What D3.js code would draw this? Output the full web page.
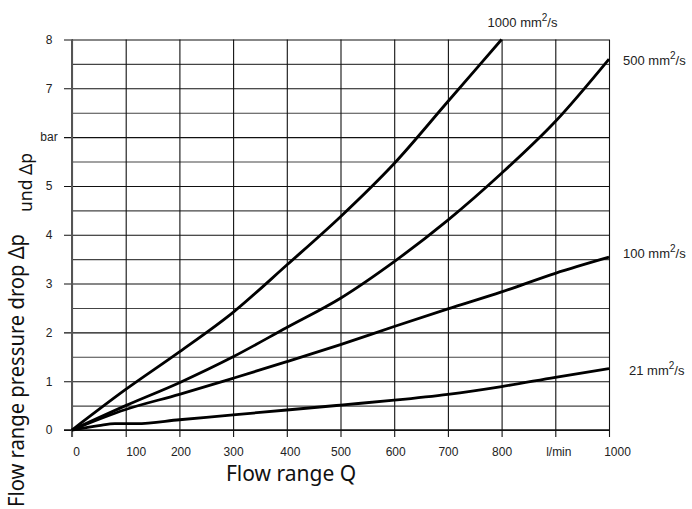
<!DOCTYPE html>
<html>
<head>
<meta charset="utf-8">
<script src="https://cdn.jsdelivr.net/npm/d3@7"></script>
<style>
  body { margin: 0; background: #fff; }
  svg { display: block; }
  .tick text { font-family: "Liberation Sans", Arial, sans-serif; font-size: 12px; fill: #222; }
  .title { font-family: "Noto Sans", "Open Sans", sans-serif; fill: #111; }
  .series-label { font-family: "Liberation Sans", Arial, sans-serif; font-size: 13px; fill: #222; }
</style>
</head>
<body>
<svg width="692" height="509"></svg>
<script>
// values (Q in l/min, dp in bar)
var xTicks = [0, 100, 200, 300, 400, 500, 600, 700, 800, 900, 1000]
var xTickLabels = ["0", "100", "200", "300", "400", "500", "600", "700", "800", "l/min", "1000"]
var yTicks = [0, 1, 2, 3, 4, 5, 6, 7, 8]
var yTickLabels = ["0", "1", "2", "3", "4", "5", "bar", "7", "8"]
var yHalfTicks = [0.5, 1.5, 2.5, 3.5, 4.5, 5.5, 6.5, 7.5]

var viscosities = [1000, 500, 100, 21]

var q1000 = [0, 100, 200, 300, 400, 500, 600, 700, 800]
var dp1000 = [0, 0.83, 1.6, 2.41, 3.38, 4.37, 5.46, 6.73, 8.0]

var q500 = [0, 100, 200, 300, 400, 500, 600, 700, 800, 900, 1000]
var dp500 = [0, 0.5, 0.97, 1.5, 2.1, 2.7, 3.45, 4.3, 5.26, 6.32, 7.6]

var q100 = [0, 100, 200, 300, 400, 500, 600, 700, 800, 900, 1000]
var dp100 = [0, 0.42, 0.73, 1.06, 1.4, 1.75, 2.12, 2.48, 2.83, 3.21, 3.54]

var q21 = [0, 50, 80, 120, 200, 300, 400, 500, 600, 700, 800, 900, 1000]
var dp21 = [0, 0.09, 0.13, 0.13, 0.21, 0.31, 0.41, 0.51, 0.61, 0.73, 0.89, 1.08, 1.26]

var series = [
  { visc: viscosities[0], q: q1000, dp: dp1000 },
  { visc: viscosities[1], q: q500, dp: dp500 },
  { visc: viscosities[2], q: q100, dp: dp100 },
  { visc: viscosities[3], q: q21, dp: dp21 }
]

var svg = d3.select('svg')

var x = d3.scaleLinear().domain([0, 1000]).range([72, 609])
var y = d3.scaleLinear().domain([0, 8]).range([430, 39.5])

var plotW = x(1000) - x(0)
var plotH = y(0) - y(8)

// half-unit horizontal grid lines
svg.append('g')
    .attr('transform', 'translate(' + x(0) + ',0)')
    .call(d3.axisLeft(y).tickValues(yHalfTicks).tickSize(-plotW).tickFormat(''))
    .call(function(g) {
      g.select('.domain').remove()
      g.selectAll('line').attr('stroke', '#444').attr('stroke-width', 1.1)
    })

// integer horizontal grid lines with ticks and labels
svg.append('g')
    .attr('transform', 'translate(' + (x(0) - 8) + ',0)')
    .call(d3.axisLeft(y).tickValues(yTicks).tickSize(-(plotW + 8)).tickPadding(9)
      .tickFormat(function(d, i) { return yTickLabels[i] }))
    .call(function(g) {
      g.select('.domain').remove()
      g.selectAll('line').attr('stroke', '#111').attr('stroke-width', 1.1)
      g.selectAll('text').attr('text-anchor', 'middle').attr('x', -15)
    })

// the printed labels sit a little right of some grid lines
var xLabelDx = [4, 10, 1, 0, 3, 0, 1, 0, 0, 3, 8]

// vertical grid lines with ticks and labels
svg.append('g')
    .attr('transform', 'translate(0,' + (y(0) + 7) + ')')
    .call(d3.axisBottom(x).tickValues(xTicks).tickSize(-(plotH + 7)).tickPadding(8)
      .tickFormat(function(d, i) { return xTickLabels[i] }))
    .call(function(g) {
      g.select('.domain').remove()
      g.selectAll('line').attr('stroke', '#111').attr('stroke-width', 1.1)
      g.selectAll('text').attr('dy', '0.9em').attr('dx', function(d, i) { return xLabelDx[i] })
    })

// axis lines
svg.append('line')
    .attr('x1', x(0)).attr('x2', x(0)).attr('y1', y(8)).attr('y2', y(0) + 7)
    .attr('stroke', '#555').attr('stroke-width', 2)
svg.append('line')
    .attr('x1', x(0) - 8).attr('x2', x(1000)).attr('y1', y(0)).attr('y2', y(0))
    .attr('stroke', '#111').attr('stroke-width', 1.4)

var line = d3.line()
    .x(function(d) { return x(d[0]) })
    .y(function(d) { return y(d[1]) })
    .curve(d3.curveMonotoneX)

svg.append('g').selectAll('path')
    .data(series)
    .enter()
    .append('path')
    .attr('d', function(s) { return line(s.q.map(function(v, i) { return [v, s.dp[i]] })) })
    .attr('fill', 'none')
    .attr('stroke', '#000')
    .attr('stroke-width', 2.8)
    .attr('stroke-linejoin', 'round')

// curve labels, placed relative to each curve end
var labelDx = [-14, 14, 14, 20]
var labelDy = [-13, 5.5, 1, 6.5]

var labels = svg.append('g').selectAll('text')
    .data(series)
    .enter()
    .append('text')
    .attr('class', 'series-label')
    .attr('x', function(s, i) { return x(s.q[s.q.length - 1]) + labelDx[i] })
    .attr('y', function(s, i) { return y(s.dp[s.dp.length - 1]) + labelDy[i] })

labels.append('tspan').text(function(s) { return s.visc + ' mm' })
labels.append('tspan').attr('dy', -6).attr('font-size', '10px').text('2')
labels.append('tspan').attr('dy', 6).text('/s')

// axis titles
svg.append('text')
    .attr('class', 'title')
    .attr('x', 291).attr('y', 481)
    .attr('text-anchor', 'middle')
    .attr('font-size', '21px')
    .text('Flow range Q')

svg.append('text')
    .attr('class', 'title')
    .attr('transform', 'translate(24,507) rotate(-90)')
    .attr('font-size', '21px')
    .attr('textLength', 273)
    .attr('lengthAdjust', 'spacingAndGlyphs')
    .text('Flow range pressure drop Δp')

svg.append('text')
    .attr('class', 'title')
    .attr('transform', 'translate(32,212) rotate(-90)')
    .attr('font-size', '18px')
    .attr('textLength', 59)
    .attr('lengthAdjust', 'spacingAndGlyphs')
    .text('und Δp')
</script>
</body>
</html>
